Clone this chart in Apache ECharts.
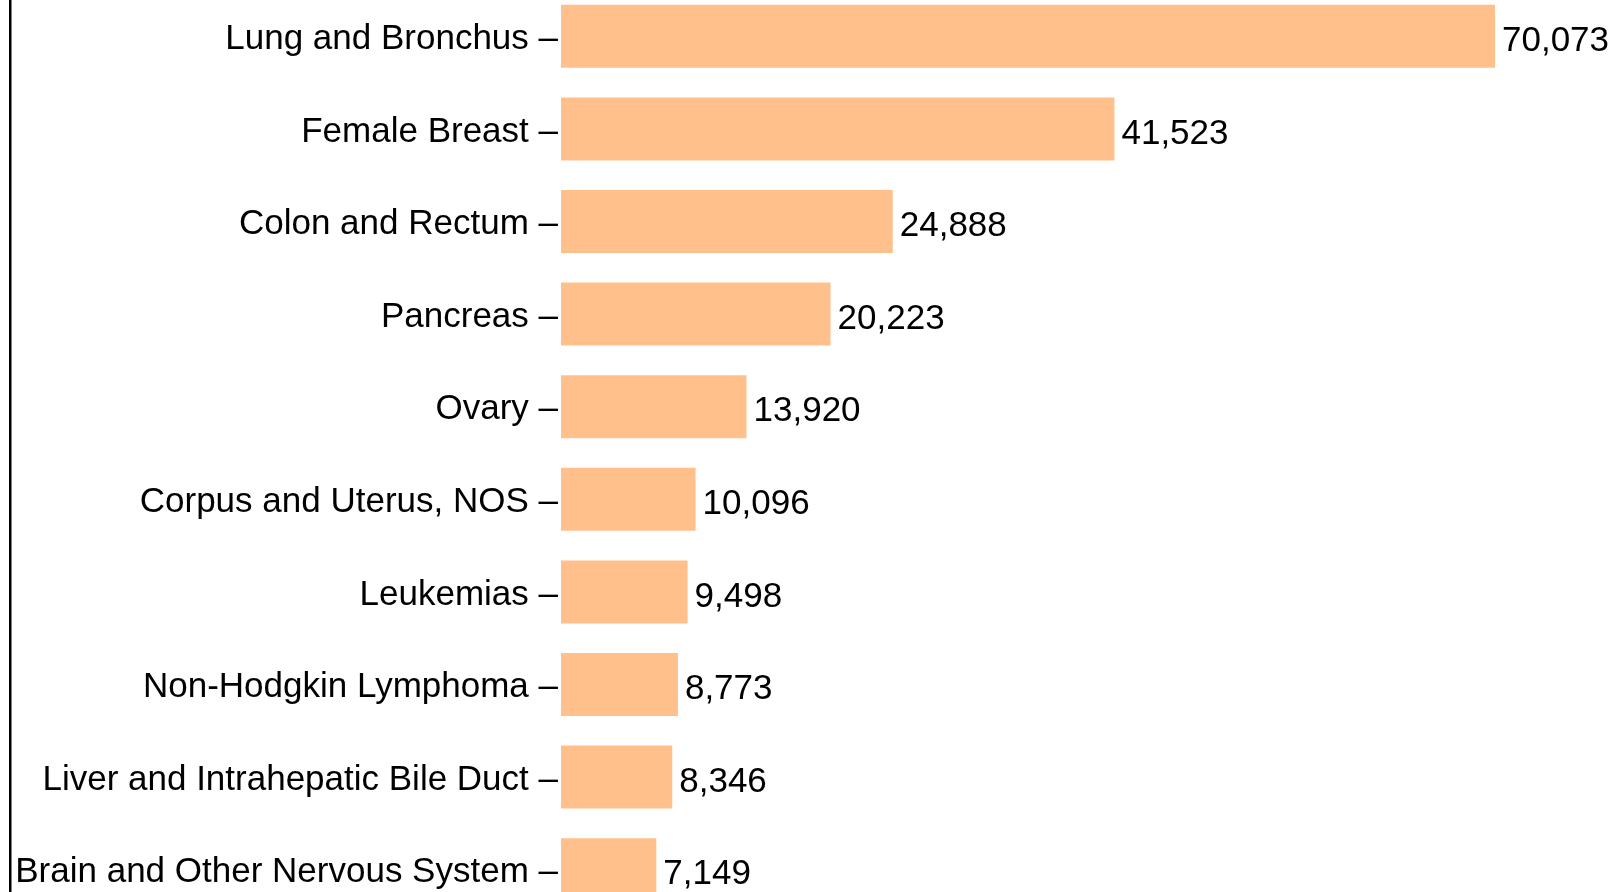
<html>
<head>
<meta charset="utf-8">
<style>
  html, body { margin: 0; padding: 0; background: #fff; }
  #chart1 { width: 1614px; height: 892px; }
</style>
</head>
<body>
<div id="chart1"></div>
<script src="https://cdn.jsdelivr.net/npm/echarts@6/dist/echarts.min.js"></script>
<script>
  // sites, top to bottom
  let sites = ['Lung and Bronchus', 'Female Breast', 'Colon and Rectum', 'Pancreas', 'Ovary',
    'Corpus and Uterus, NOS', 'Leukemias', 'Non-Hodgkin Lymphoma',
    'Liver and Intrahepatic Bile Duct', 'Brain and Other Nervous System'];
  let counts = [70073, 41523, 24888, 20223, 13920, 10096, 9498, 8773, 8346, 7149];

  let barColor = '#ffc08c';
  let font = '"Liberation Sans", Arial, sans-serif';

  let myChart = echarts.init(document.getElementById('chart1'));
  let option = {
    animation: false,
    backgroundColor: '#fff',
    textStyle: { fontFamily: font },
    // the last row runs off the bottom of the page, like the original
    grid: { left: 561, top: -10, height: 926, width: 934, containLabel: false, outerBoundsMode: 'none' },
    xAxis: {
      type: 'value',
      min: 0,
      max: Math.max.apply(null, counts),
      show: false
    },
    yAxis: {
      type: 'category',
      inverse: true,
      data: sites,
      axisLine: { show: false },
      axisTick: { show: false },
      axisLabel: {
        margin: 3,
        formatter: function (v) { return '{n|' + v + ' \u2013}'; },
        rich: {
          n: {
            fontSize: 35,
            color: '#000',
            fontFamily: font,
            padding: [6, 0, 0, 0]
          }
        }
      }
    },
    graphic: [{
      type: 'rect',
      shape: { x: 9, y: 0, width: 2.5, height: 892 },
      style: { fill: '#000' }
    }],
    series: [{
      type: 'bar',
      data: counts,
      barWidth: 63,
      itemStyle: { color: barColor },
      label: {
        show: true,
        position: 'right',
        distance: 7,
        offset: [0, 5],
        fontSize: 35,
        color: '#000',
        fontFamily: font,
        formatter: function (p) { return p.value.toLocaleString('en-US'); }
      }
    }]
  };
  myChart.setOption(option);
</script>
</body>
</html>
